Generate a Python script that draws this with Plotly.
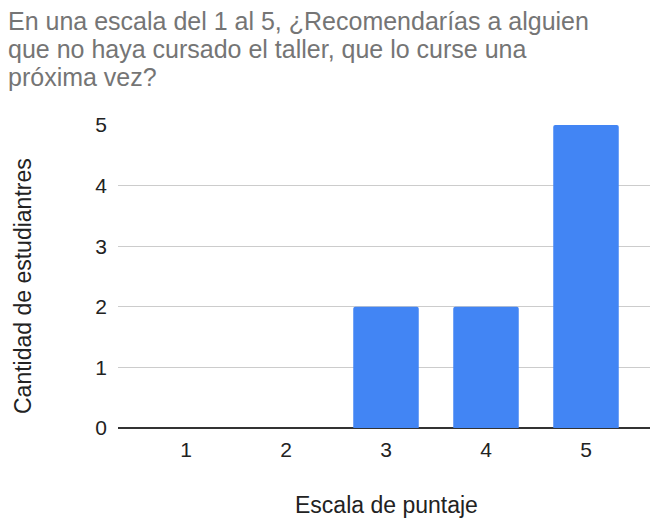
import plotly.graph_objects as go

# Survey results: how many students gave each score
scores = ["1", "2", "3", "4", "5"]
students = [0, 0, 2, 2, 5]
y_ticks = [0, 1, 2, 3, 4, 5]

title_lines = [
    "En una escala del 1 al 5, ¿Recomendarías a alguien",
    "que no haya cursado el taller, que lo curse una",
    "próxima vez?",
]
x_title = "Escala de puntaje"
y_title = "Cantidad de estudiantres"

W, H = 650, 519
M_L, M_R, M_T, M_B = 118, 0, 125, 91
PLOT_W = W - M_L - M_R
PLOT_H = H - M_T - M_B

FONT = "Liberation Sans, Arial, sans-serif"


def px_x(px):
    return (px - M_L) / PLOT_W


def px_y(py):
    return (H - M_B - py) / PLOT_H


fig = go.Figure(
    go.Bar(
        x=scores,
        y=students,
        marker=dict(color="#4285F4", line=dict(width=0), cornerradius=2),
        width=0.655,
        hoverinfo="x+y",
    )
)

annotations = []
for i, line in enumerate(title_lines):
    annotations.append(dict(
        text=line, xref="paper", yref="paper",
        x=px_x(7), y=px_y(20.5 + 28.5 * i),
        xanchor="left", yanchor="middle", showarrow=False, borderpad=0,
        font=dict(family=FONT, size=25, color="#757575"),
    ))

annotations.append(dict(
    text=x_title, xref="paper", yref="paper",
    x=px_x(386), y=px_y(505), xanchor="center", yanchor="middle",
    showarrow=False, font=dict(family=FONT, size=23, color="#222222"),
))
annotations.append(dict(
    text=y_title, xref="paper", yref="paper",
    x=px_x(23), y=px_y(286), xanchor="center", yanchor="middle",
    textangle=-90, showarrow=False,
    font=dict(family=FONT, size=23, color="#222222"),
))

fig.update_layout(
    width=W, height=H,
    margin=dict(l=M_L, r=M_R, t=M_T, b=M_B, pad=0),
    paper_bgcolor="white", plot_bgcolor="white",
    showlegend=False,
    annotations=annotations,
    font=dict(family=FONT, color="#222222"),
    xaxis=dict(
        type="category",
        range=[-0.68, 4.64],
        showgrid=False, zeroline=False, showline=False,
        ticks="", ticklabelstandoff=7,
        tickfont=dict(family=FONT, size=21, color="#222222"),
        fixedrange=True,
    ),
    yaxis=dict(
        range=[0, 5],
        tickvals=y_ticks,
        showgrid=True, gridcolor="#cccccc", gridwidth=1,
        zeroline=True, zerolinecolor="#333333", zerolinewidth=1.5,
        showline=False, ticks="", ticklabelstandoff=10,
        tickfont=dict(family=FONT, size=21, color="#222222"),
        fixedrange=True,
    ),
)

fig.write_html("out.html")
